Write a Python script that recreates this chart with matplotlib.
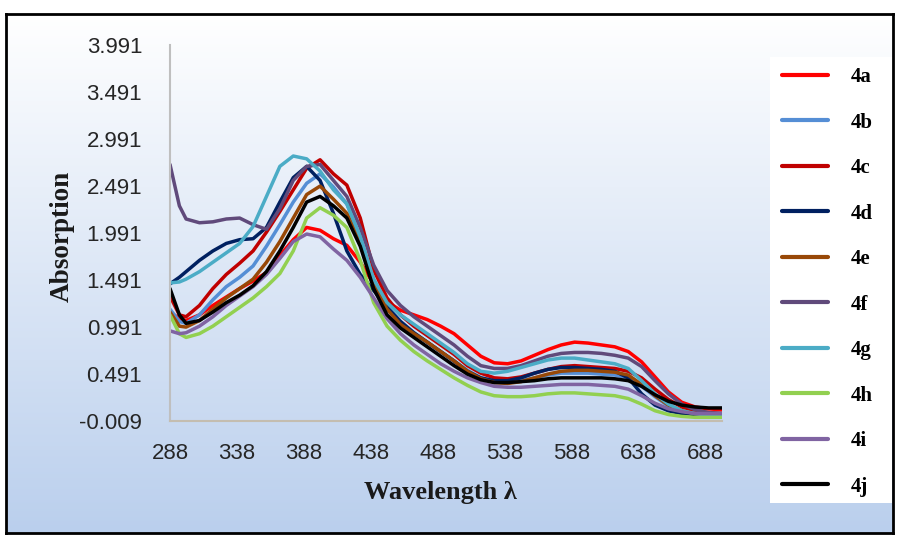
import numpy as np
import matplotlib
matplotlib.use("Agg")
import matplotlib.pyplot as plt
from matplotlib import font_manager
from matplotlib.patches import Rectangle

# ---------------- data ----------------
wavelengths = [288, 295, 300, 310, 320, 330, 340, 350, 360, 370, 380, 390, 400, 410, 420,
               430, 440, 450, 460, 470, 480, 490, 500, 510, 520, 530, 540, 550, 560, 570,
               580, 590, 600, 610, 620, 630, 640, 650, 660, 670, 680, 690, 700]

s4a = [1.15, 1.08, 1.06, 1.12, 1.22, 1.31, 1.40, 1.48, 1.57, 1.75, 1.92, 2.05, 2.02, 1.93, 1.86,
       1.68, 1.45, 1.26, 1.17, 1.12, 1.07, 1.00, 0.92, 0.80, 0.68, 0.61, 0.60, 0.63, 0.69, 0.75,
       0.80, 0.83, 0.82, 0.80, 0.78, 0.73, 0.62, 0.46, 0.30, 0.19, 0.14, 0.12, 0.11]
s4b = [1.18, 1.05, 1.03, 1.12, 1.28, 1.42, 1.52, 1.64, 1.85, 2.08, 2.32, 2.52, 2.62, 2.48, 2.30,
       1.95, 1.50, 1.22, 1.05, 0.93, 0.83, 0.73, 0.63, 0.53, 0.45, 0.41, 0.40, 0.42, 0.45, 0.48,
       0.50, 0.50, 0.50, 0.49, 0.48, 0.45, 0.36, 0.25, 0.15, 0.09, 0.06, 0.05, 0.05]
s4c = [1.32, 1.12, 1.10, 1.22, 1.40, 1.55, 1.67, 1.80, 2.00, 2.22, 2.45, 2.68, 2.77, 2.62, 2.50,
       2.15, 1.60, 1.30, 1.12, 1.00, 0.90, 0.80, 0.70, 0.58, 0.50, 0.45, 0.44, 0.46, 0.50, 0.54,
       0.57, 0.58, 0.57, 0.56, 0.55, 0.52, 0.45, 0.33, 0.22, 0.14, 0.10, 0.08, 0.07]
s4d = [1.45, 1.52, 1.58, 1.70, 1.80, 1.88, 1.92, 1.93, 2.05, 2.32, 2.58, 2.70, 2.55, 2.20, 1.80,
       1.55, 1.38, 1.20, 1.05, 0.93, 0.83, 0.73, 0.63, 0.52, 0.45, 0.42, 0.42, 0.45, 0.50, 0.54,
       0.56, 0.56, 0.55, 0.54, 0.52, 0.45, 0.28, 0.16, 0.10, 0.07, 0.06, 0.05, 0.05]
s4e = [1.15, 1.00, 0.99, 1.06, 1.18, 1.30, 1.40, 1.50, 1.68, 1.90, 2.15, 2.40, 2.49, 2.35, 2.20,
       1.90, 1.45, 1.18, 1.02, 0.92, 0.83, 0.73, 0.63, 0.52, 0.44, 0.40, 0.39, 0.41, 0.45, 0.49,
       0.52, 0.53, 0.53, 0.52, 0.51, 0.48, 0.38, 0.26, 0.16, 0.10, 0.07, 0.06, 0.06]
s4f = [2.72, 2.28, 2.14, 2.10, 2.11, 2.14, 2.15, 2.08, 2.03, 2.25, 2.55, 2.70, 2.72, 2.55, 2.38,
       2.05, 1.65, 1.38, 1.22, 1.10, 1.00, 0.90, 0.80, 0.68, 0.58, 0.55, 0.55, 0.58, 0.63, 0.68,
       0.71, 0.72, 0.72, 0.71, 0.69, 0.66, 0.57, 0.42, 0.28, 0.17, 0.11, 0.08, 0.07]
s4g = [1.46, 1.47, 1.50, 1.58, 1.68, 1.78, 1.88, 2.06, 2.38, 2.70, 2.81, 2.78, 2.65, 2.45, 2.30,
       1.95, 1.50, 1.25, 1.12, 1.02, 0.92, 0.82, 0.72, 0.60, 0.52, 0.50, 0.52, 0.56, 0.60, 0.64,
       0.66, 0.66, 0.64, 0.62, 0.60, 0.55, 0.42, 0.28, 0.17, 0.10, 0.07, 0.05, 0.05]
s4h = [1.12, 0.92, 0.88, 0.92, 1.00, 1.10, 1.20, 1.30, 1.42, 1.56, 1.80, 2.15, 2.26, 2.18, 2.05,
       1.70, 1.25, 1.00, 0.85, 0.73, 0.63, 0.54, 0.45, 0.37, 0.30, 0.26, 0.25, 0.25, 0.26, 0.28,
       0.29, 0.29, 0.28, 0.27, 0.26, 0.23, 0.17, 0.10, 0.06, 0.04, 0.03, 0.03, 0.03]
s4i = [0.95, 0.92, 0.93, 1.00, 1.10, 1.22, 1.32, 1.42, 1.55, 1.72, 1.90, 1.98, 1.95, 1.82, 1.70,
       1.52, 1.30, 1.08, 0.92, 0.80, 0.70, 0.60, 0.52, 0.45, 0.40, 0.36, 0.35, 0.35, 0.36, 0.37,
       0.38, 0.38, 0.38, 0.37, 0.36, 0.33, 0.26, 0.18, 0.12, 0.09, 0.07, 0.07, 0.07]
s4j = [1.40, 1.12, 1.03, 1.06, 1.15, 1.25, 1.33, 1.43, 1.58, 1.80, 2.05, 2.32, 2.38, 2.28, 2.15,
       1.85, 1.40, 1.12, 0.98, 0.88, 0.78, 0.68, 0.58, 0.49, 0.43, 0.40, 0.40, 0.41, 0.42, 0.44,
       0.45, 0.45, 0.45, 0.45, 0.44, 0.42, 0.36, 0.27, 0.20, 0.16, 0.14, 0.13, 0.13]

series_names = ["4a", "4b", "4c", "4d", "4e", "4f", "4g", "4h", "4i", "4j"]
series_values = [s4a, s4b, s4c, s4d, s4e, s4f, s4g, s4h, s4i, s4j]
series_colors = ["#ff0000", "#558ed5", "#c00000", "#002060", "#984807",
                 "#604a7b", "#4bacc6", "#92d050", "#8064a2", "#000000"]

x_ticks = [288, 338, 388, 438, 488, 538, 588, 638, 688]
y_ticks = [-0.009, 0.491, 0.991, 1.491, 1.991, 2.491, 2.991, 3.491, 3.991]
y_tick_labels = ["-0.009", "0.491", "0.991", "1.491", "1.991", "2.491", "2.991", "3.491", "3.991"]

# ---------------- fonts ----------------
names = {f.name for f in font_manager.fontManager.ttflist}
tick_font = "Liberation Sans Narrow" if "Liberation Sans Narrow" in names else "Liberation Sans"
serif_font = "Liberation Serif"

W, H = 899, 536
fig = plt.figure(figsize=(W / 100, H / 100), dpi=100)
fig.patch.set_facecolor("white")

# background gradient inside frame
bx0, by0, bx1, by1 = 6, 14, 893, 533
bg = fig.add_axes([bx0 / W, 1 - by1 / H, (bx1 - bx0) / W, (by1 - by0) / H], zorder=0)
grad = np.linspace(0, 1, 256)[:, None]
top = np.array([1.0, 1.0, 1.0])
bot = np.array([186, 207, 237]) / 255
img = top[None, None, :] * (1 - grad[:, :, None]) + bot[None, None, :] * grad[:, :, None]
bg.imshow(img, aspect="auto", extent=[0, 1, 0, 1])
bg.set_xticks([]); bg.set_yticks([])
for sp in bg.spines.values():
    sp.set_color("black")
    sp.set_linewidth(2.0)

# legend white box
fig.add_artist(Rectangle((770 / W, 1 - 503 / H), 122 / W, 446 / H,
                         transform=fig.transFigure, facecolor="white",
                         edgecolor="none", zorder=1))

ax = fig.add_axes([170 / W, 1 - 421 / H, 552 / W, 376 / H], zorder=2)
ax.patch.set_alpha(0)

lines = []
for name, vals, col in zip(series_names, series_values, series_colors):
    ln, = ax.plot(wavelengths, vals, color=col, lw=2.5, label=name,
                  solid_joinstyle="round", solid_capstyle="round")
    lines.append(ln)

ax.set_xlim(288, 700)
ax.set_ylim(-0.009, 3.991)
ax.set_xticks(x_ticks)
ax.set_xticklabels([str(t) for t in x_ticks])
ax.set_yticks(y_ticks)
ax.set_yticklabels(y_tick_labels)
ax.tick_params(axis="both", length=0, labelsize=16, labelcolor="#262626")
ax.tick_params(axis="y", pad=20)
ax.tick_params(axis="x", pad=16)
for lab in ax.get_xticklabels() + ax.get_yticklabels():
    lab.set_fontfamily(tick_font)
for s in ["top", "right"]:
    ax.spines[s].set_visible(False)
ax.spines["left"].set_color("#bfbfbf")
ax.spines["left"].set_linewidth(1.5)
ax.spines["bottom"].set_color("#c4bdb0")
ax.spines["bottom"].set_linewidth(1.5)

fig.text(440 / W, 1 - 493 / H, "Wavelength λ", family=serif_font, weight="bold",
         fontsize=19, ha="center", va="center", color="#1a1a1a")
fig.text(62 / W, 1 - 236 / H, "Absorption", family=serif_font, weight="bold",
         fontsize=19.5, ha="center", va="center", rotation=90, color="#1a1a1a")

leg = fig.legend(handles=lines, labels=series_names, loc="upper left",
                 bbox_to_anchor=(782 / W, 1 - 67 / H), frameon=False,
                 prop={"family": serif_font, "weight": "bold", "size": 15},
                 handlelength=2.2, handletextpad=1.1, labelspacing=1.225,
                 borderaxespad=0, borderpad=0)
leg.set_zorder(3)
for h in leg.legend_handles:
    h.set_linewidth(3.0)

fig.savefig("out.png", dpi=100)
